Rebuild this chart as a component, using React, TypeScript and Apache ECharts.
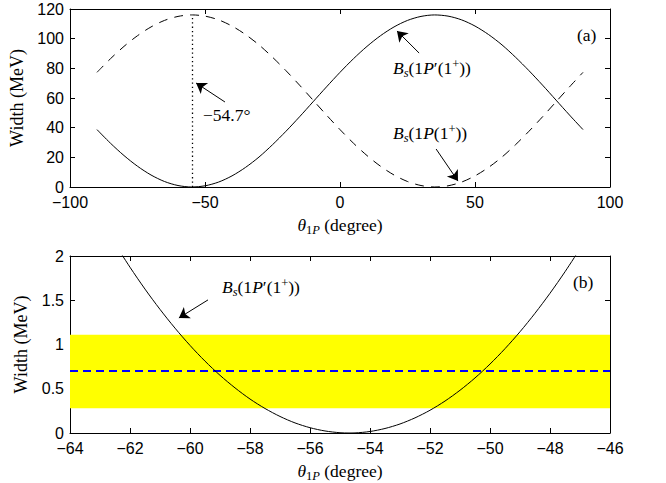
import React, { useEffect, useRef } from 'react';
import * as echarts from 'echarts';

// ---- Panel (a) data ----
const thetaTop = [-90, -85, -80, -75, -70, -65, -60, -55, -54.7, -50, -45, -40, -35, -30, -25, -20, -15, -10, -5, 0, 5, 10, 15, 20, 25, 30, 35, 40, 45, 50, 55, 60, 65, 70, 75, 80, 85, 90];
const widthP1Prime = [38.7, 29.5, 21.2, 14.0, 8.1, 3.7, 1.0, 0.0, 0.0, 0.8, 3.3, 7.5, 13.2, 20.2, 28.5, 37.6, 47.3, 57.4, 67.5, 77.3, 86.5, 94.8, 102.0, 107.9, 112.3, 115.0, 116.0, 115.2, 112.7, 108.5, 102.8, 95.8, 87.5, 78.4, 68.7, 58.6, 48.5, 38.7];
const widthP1 = [77.3, 86.5, 94.8, 102.0, 107.9, 112.3, 115.0, 116.0, 116.0, 115.2, 112.7, 108.5, 102.8, 95.8, 87.5, 78.4, 68.7, 58.6, 48.5, 38.7, 29.5, 21.2, 14.0, 8.1, 3.7, 1.0, 0.0, 0.8, 3.3, 7.5, 13.2, 20.2, 28.5, 37.6, 47.3, 57.4, 67.5, 77.3];
const mixingAngle = -54.7;
const mixingPeak = 116;

// ---- Panel (b) data ----
const thetaZoom = [-62.5, -62, -61.5, -61, -60.5, -60, -59.5, -59, -58.5, -58, -57.5, -57, -56.5, -56, -55.5, -55, -54.7, -54.5, -54, -53.5, -53, -52.5, -52, -51.5, -51, -50.5, -50, -49.5, -49, -48.5, -48, -47.5, -47];
const widthZoom = [2.137, 1.873, 1.626, 1.397, 1.185, 0.990, 0.812, 0.652, 0.510, 0.384, 0.277, 0.187, 0.114, 0.060, 0.023, 0.003, 0.0, 0.001, 0.017, 0.051, 0.102, 0.171, 0.257, 0.361, 0.483, 0.622, 0.779, 0.953, 1.144, 1.353, 1.579, 1.822, 2.082];
const cdfCentral = 0.7;
const cdfLow = 0.28;
const cdfHigh = 1.11;

// ---- Axes ----
const topX = { min: -100, max: 100, interval: 50 };
const topY = { min: 0, max: 120, interval: 20 };
const botX = { min: -64, max: -46, interval: 2 };
const botY = { min: 0, max: 2, interval: 0.5 };

const SERIF = "'Liberation Serif', 'Times New Roman', serif";
const SANS = "'Liberation Sans', Arial, Helvetica, sans-serif";
const FS = 17.5;

const richBase = {
  n: { fontFamily: SERIF, fontSize: FS, lineHeight: 22, color: '#000' },
  i: { fontFamily: SERIF, fontSize: FS, lineHeight: 22, fontStyle: 'italic', color: '#000' },
  sn: { fontFamily: SERIF, fontSize: 12.5, lineHeight: 12, verticalAlign: 'bottom', color: '#000' },
  si: { fontFamily: SERIF, fontSize: 12.5, lineHeight: 12, fontStyle: 'italic', verticalAlign: 'bottom', color: '#000' },
  sup: { fontFamily: SERIF, fontSize: 12.5, lineHeight: 15, verticalAlign: 'top', color: '#000' },
};

const fmt = (v: number) => String(v).replace('-', '\u2212');

function axisPair(kind: 'x' | 'y', grid: number, range: any, withName: string | null) {
  const base = {
    type: 'value',
    gridIndex: grid,
    ...range,
    splitLine: { show: false },
    axisLine: { show: true, onZero: false, lineStyle: { color: '#000', width: 1 } },
    axisTick: { show: true, inside: true, length: 5, lineStyle: { color: '#000', width: 1 } },
  };
  const main: any = {
    ...base,
    position: kind === 'x' ? 'bottom' : 'left',
    axisLabel: {
      show: true,
      color: '#000',
      fontFamily: SANS,
      fontSize: 16,
      lineHeight: kind === 'x' ? 16 : 14,
      margin: kind === 'x' ? 7 : 6,
      formatter: fmt,
    },
  };
  if (withName) {
    main.name = withName;
    main.nameLocation = 'middle';
    main.nameGap = kind === 'x' ? 27 : 40;
    main.nameTextStyle = { fontFamily: SERIF, fontSize: kind === 'x' ? FS : 18, color: '#000', rich: richBase };
  }
  const mirror: any = {
    ...base,
    position: kind === 'x' ? 'top' : 'right',
    axisLabel: { show: false },
  };
  return [main, mirror];
}

const xName = '{i|θ}{sn|1}{si|P}{n| (degree)}';
const bsPrime = '{i|B}{si|s}{n|(1}{i|P}{n|′(1}{sup|+}{n|))}';
const bsPlain = '{i|B}{si|s}{n|(1}{i|P}{n|(1}{sup|+}{n|))}';

function label(x: number, y: number, text: string) {
  return {
    type: 'text',
    x,
    y,
    silent: true,
    style: {
      text,
      fill: '#000',
      fontFamily: SERIF,
      fontSize: FS,
      align: 'left',
      verticalAlign: 'middle',
      rich: richBase,
    },
  };
}

const arrowLine = (a: number[], b: number[]) => [{ coord: a }, { coord: b }];

export default function App() {
  const ref = useRef<HTMLDivElement>(null);
  useEffect(() => {
    document.body.style.margin = '0';
    if (!ref.current) return;
    const chart = echarts.init(ref.current, null, { renderer: 'svg' });
    const [x0, x0m] = axisPair('x', 0, topX, xName);
    const [y0, y0m] = axisPair('y', 0, topY, 'Width (MeV)');
    const [x1, x1m] = axisPair('x', 1, botX, xName);
    const [y1, y1m] = axisPair('y', 1, botY, 'Width (MeV)');

    const option: any = {
      animation: false,
      backgroundColor: '#fff',
      grid: [
        { left: 70, right: 56, top: 9, height: 178 },
        { left: 70, right: 56, top: 256, height: 177 },
      ],
      xAxis: [x0, x0m, x1, x1m],
      yAxis: [y0, y0m, y1, y1m],
      series: [
        {
          type: 'line',
          xAxisIndex: 0,
          yAxisIndex: 0,
          data: thetaTop.map((t, i) => [t, widthP1Prime[i]]),
          showSymbol: false,
          smooth: 0.3,
          lineStyle: { color: '#000', width: 1 },
          markLine: {
            silent: true,
            symbol: ['none', 'arrow'],
            symbolSize: 10,
            label: { show: false },
            lineStyle: { color: '#000', width: 1, type: 'solid' },
            data: [
              arrowLine([-42.6, 57.3], [-53.3, 70.1]),
              arrowLine([29.3, 90.3], [21.1, 105.2]),
              arrowLine([35.6, 25.6], [43.7, 4.0]),
            ],
          },
        },
        {
          type: 'line',
          xAxisIndex: 0,
          yAxisIndex: 0,
          data: thetaTop.map((t, i) => [t, widthP1[i]]),
          showSymbol: false,
          smooth: 0.3,
          lineStyle: { color: '#000', width: 1, type: [9, 7] },
          markLine: {
            silent: true,
            symbol: 'none',
            label: { show: false },
            lineStyle: { color: '#000', width: 1.3, type: [1.3, 3] },
            data: [arrowLine([mixingAngle, 0], [mixingAngle, mixingPeak])],
          },
        },
        {
          type: 'line',
          xAxisIndex: 2,
          yAxisIndex: 2,
          data: thetaZoom.map((t, i) => [t, widthZoom[i]]),
          showSymbol: false,
          smooth: 0.3,
          clip: true,
          z: 5,
          lineStyle: { color: '#000', width: 1 },
          markArea: {
            silent: true,
            itemStyle: { color: '#ffff00', opacity: 1 },
            data: [[{ yAxis: cdfLow }, { yAxis: cdfHigh }]],
          },
          markLine: {
            silent: true,
            symbol: ['none', 'arrow'],
            symbolSize: 10,
            label: { show: false },
            lineStyle: { color: '#000', width: 1, type: 'solid' },
            data: [arrowLine([-59.4, 1.504], [-60.37, 1.3])],
          },
        },
        {
          type: 'line',
          xAxisIndex: 2,
          yAxisIndex: 2,
          data: [[botX.min, cdfCentral], [botX.max, cdfCentral]],
          showSymbol: false,
          z: 4,
          lineStyle: { color: '#0000ff', width: 2, type: [8, 5] },
        },
      ],
      graphic: [
        label(203, 115, '{n|\u221254.7°}'),
        label(393, 68, bsPrime),
        label(393, 133, bsPlain),
        label(577, 35, '{n|(a)}'),
        label(222, 287, bsPrime),
        label(573, 282, '{n|(b)}'),
        label(551, 389, '{n|CDF}'),
      ],
    };
    chart.setOption(option);
    return () => chart.dispose();
  }, []);
  return <div ref={ref} style={{ width: 666, height: 483 }} />;
}
